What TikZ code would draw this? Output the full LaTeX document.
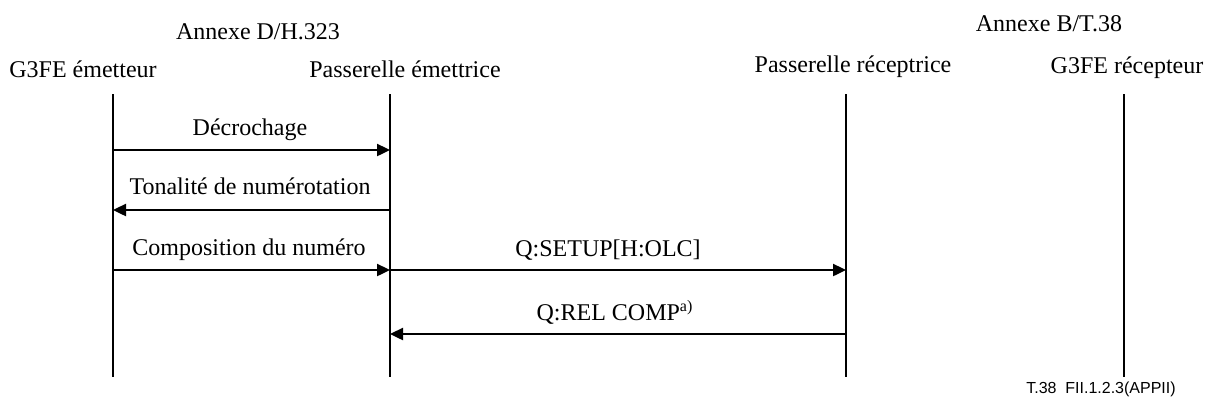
\documentclass[tikz,border=0pt]{standalone}
\usepackage{fontspec}
\setmainfont{Liberation Serif}
\newfontfamily\figfont{Liberation Sans}
\usetikzlibrary{arrows.meta}

\tikzset{
  lifeline/.style={line width=1.2pt},
  msg/.style={line width=1.2pt, -{Triangle[length=6.5pt,width=6pt]}},
  txt/.style={font=\fontsize{12}{14}\selectfont, inner sep=0pt, anchor=base},
}

\begin{document}
\begin{tikzpicture}[x=0.5pt, y=-0.5pt]
\useasboundingbox (0,0) rectangle (1206,403);

% Annexes
\node[txt] (annexD) at (258,39) {Annexe D/H.323};
\node[txt] (annexB) at (1049,31) {Annexe B/T.38};

% Entities
\node[txt] (geName) at (83,77) {G3FE émetteur};
\node[txt] (peName) at (405,77) {Passerelle émettrice};
\node[txt] (prName) at (853,72) {Passerelle réceptrice};
\node[txt] (grName) at (1127,73) {G3FE récepteur};

% Lifelines
\foreach \name/\x in {ge/113, pe/390, pr/846, gr/1124} {
  \coordinate (\name-top) at (\x,94);
  \coordinate (\name-bot) at (\x,377);
  \draw[lifeline] (\name-top) -- (\name-bot);
}

% Message levels
\coordinate (m1) at (0,150);
\coordinate (m2) at (0,210);
\coordinate (m3) at (0,270);
\coordinate (m4) at (0,334);

% Messages
\draw[msg] (ge-top |- m1) -- (pe-top |- m1);
\node[txt] (decroch) at (250,135) {Décrochage};

\draw[msg] (pe-top |- m2) -- (ge-top |- m2);
\node[txt] (tonal) at (250,194) {Tonalité de numérotation};

\draw[msg] (ge-top |- m3) -- (pe-top |- m3);
\node[txt] (compo) at (249,255) {Composition du numéro};

\draw[msg] (pe-top |- m3) -- (pr-top |- m3);
\node[txt] (setup) at (608,256) {Q:SETUP[H:OLC]};

\draw[msg] (pr-top |- m4) -- (pe-top |- m4);
\node[txt] (relcomp) at (615,320) {Q:REL COMP\textsuperscript{a)}};

% Figure reference
\node[inner sep=0pt, anchor=base, font=\figfont\fontsize{8}{10}\selectfont] (figref) at (1101,393) {T.38\ \ FII.1.2.3(APPII)};

\end{tikzpicture}
\end{document}
